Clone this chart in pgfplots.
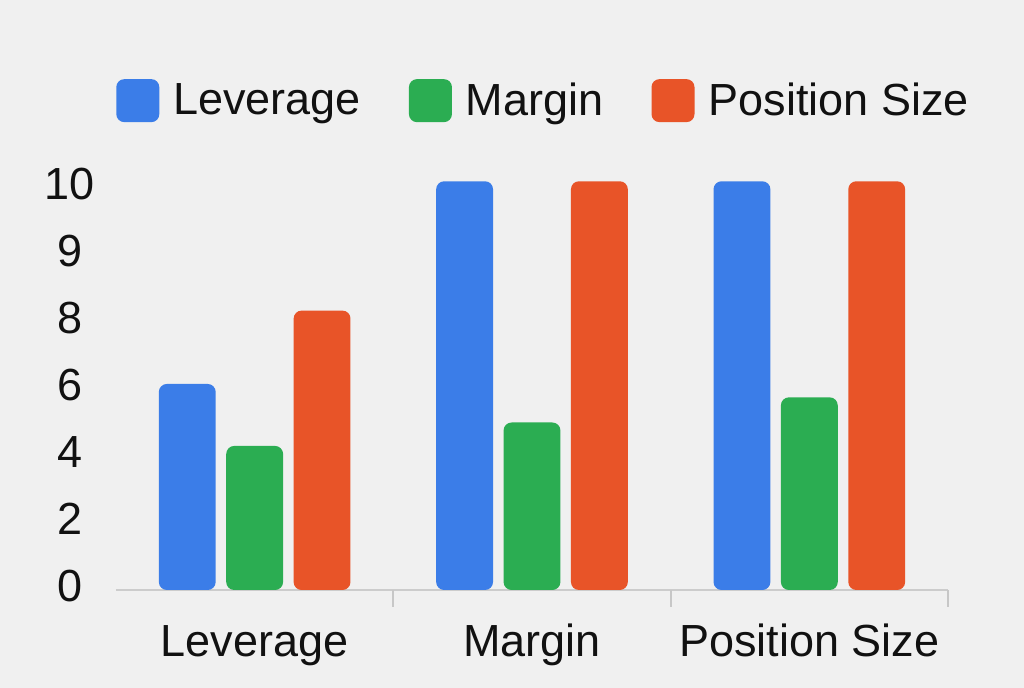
\documentclass[border=0pt]{standalone}
\usepackage{pgfplots}
\pgfplotsset{compat=1.18}
\usepackage{fontspec}
\setmainfont{Liberation Sans}
\definecolor{cblue}{HTML}{3B7DE8}
\definecolor{cgreen}{HTML}{2BAD52}
\definecolor{cred}{HTML}{E85428}
\definecolor{bgc}{HTML}{F0F0F0}
\definecolor{txt}{HTML}{111111}
\begin{document}
\begin{tikzpicture}
\fill[bgc] (-58pt,-49pt) rectangle (454pt,295pt);
\begin{axis}[
  at={(0pt,0pt)}, anchor=south west,
  scale only axis, width=416pt, height=207.7pt,
  xmin=-0.5, xmax=2.5, ymin=0, ymax=10.2,
  y coord trafo/.code={\pgfmathparse{(#1<=8)*(#1)+(#1>8)*(2*(#1)-8)}},
  y coord inv trafo/.code={\pgfmathparse{(#1<=8)*(#1)+(#1>8)*(((#1)+8)/2)}},
  ybar, bar width=0.205,
  xtick={0,1,2}, xticklabels={Leverage,Margin,Position Size},
  ytick={0,2,4,6,8,9,10}, yticklabels={0,2,4,6,8,9,10},
  axis lines*=left,
  y axis line style={draw=none},
  x axis line style={draw=black!20, line width=1pt},
  major tick length=0pt,
  tick align=outside,
  extra x ticks={0.5,1.5,2.5}, extra x tick labels={},
  extra x tick style={major tick length=8.5pt, tick style={draw=black!22, line width=1pt}},
  ticklabel style={font=\fontsize{22.5}{27}\selectfont, text=txt},
  yticklabel style={anchor=center, xshift=-23pt, yshift=2pt},
  xticklabel style={anchor=base, yshift=-33.5pt},
  legend style={at={(0.515,1.178)}, anchor=center, draw=none, fill=none,
    legend columns=-1, font=\fontsize{22.5}{27}\selectfont, text=txt,
    /tikz/every odd column/.append style={column sep=5pt},
    /tikz/every even column/.append style={column sep=22pt}},
  legend image code/.code={\fill[#1, rounded corners=4pt] (0pt,-10.75pt) rectangle (21.5pt,10.75pt);},
]
\addplot[fill=cblue, draw=none, bar shift=-0.243, rounded corners=4pt] coordinates {(0,6.15) (1,10.1) (2,10.1)};
\addplot[fill=cgreen, draw=none, bar shift=0, rounded corners=4pt] coordinates {(0,4.3) (1,5.0) (2,5.75)};
\addplot[fill=cred, draw=none, bar shift=0.243, rounded corners=4pt] coordinates {(0,8.17) (1,10.1) (2,10.1)};
\legend{Leverage,Margin,Position Size}
\end{axis}
\end{tikzpicture}
\end{document}
